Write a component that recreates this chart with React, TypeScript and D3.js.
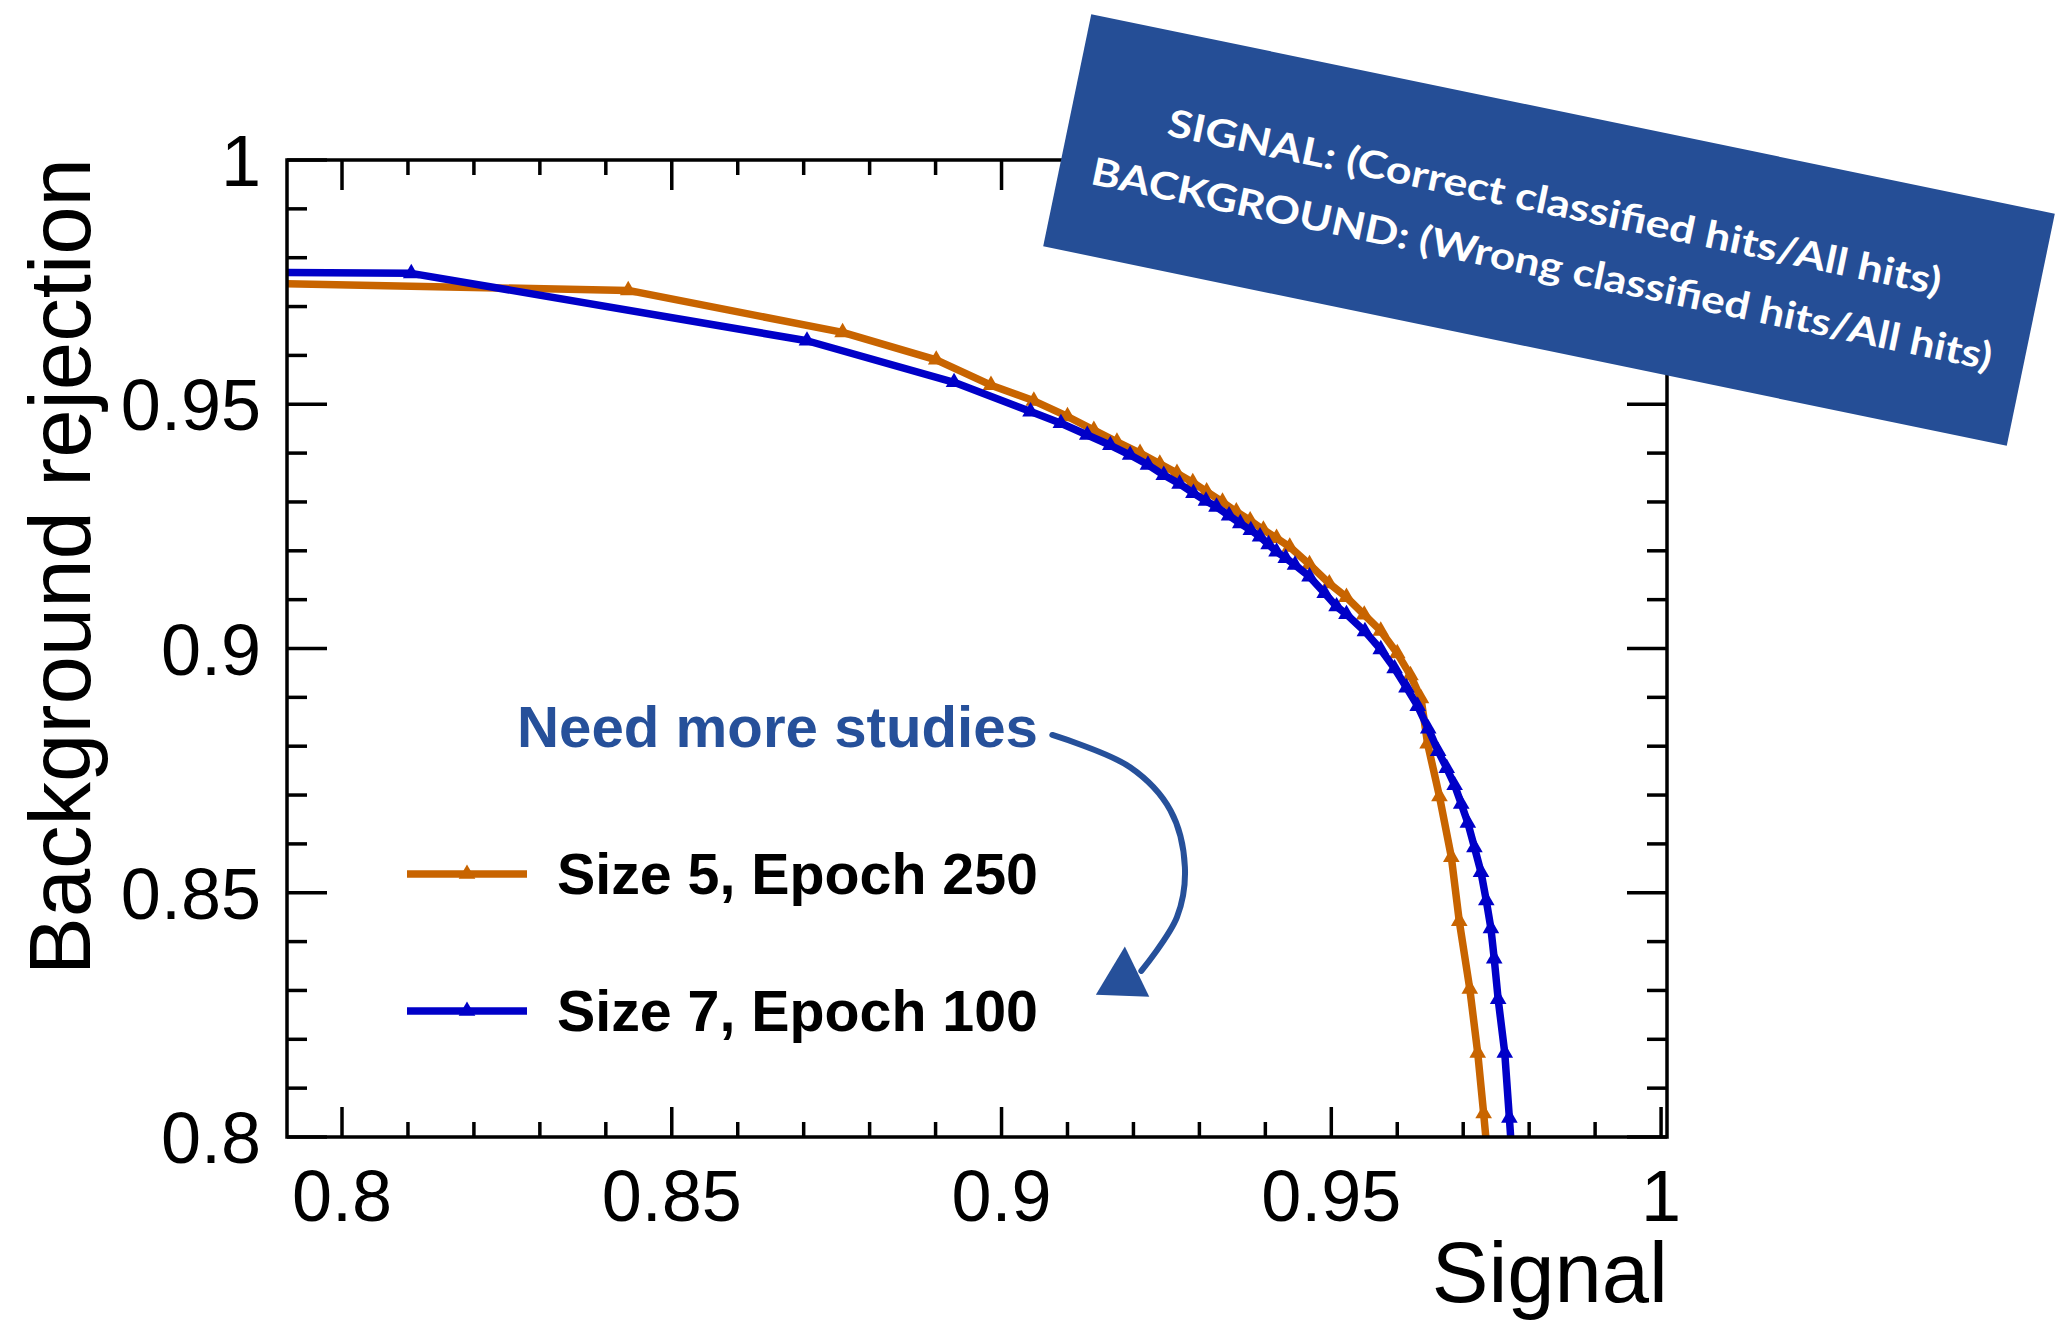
import React, { useEffect, useRef } from 'react';
import * as d3 from 'd3';

const W = 2061;
const H = 1324;

// ROC curves (signal efficiency vs background rejection)
const size5Signal = [0.790, 0.8434, 0.8759, 0.8901, 0.8984, 0.9049, 0.9100, 0.9140, 0.9175, 0.9210, 0.9240, 0.9266, 0.9290, 0.9311, 0.9335, 0.9356, 0.9377, 0.9397, 0.9417, 0.9437, 0.9467, 0.9497, 0.9523, 0.9550, 0.9575, 0.9600, 0.9620, 0.9636, 0.9646, 0.9664, 0.9682, 0.9694, 0.9710, 0.9722, 0.9731, 0.9737];
const size5Rejection = [0.9747, 0.9733, 0.9647, 0.9591, 0.9539, 0.9507, 0.9475, 0.9447, 0.9423, 0.9400, 0.9378, 0.9359, 0.9340, 0.9321, 0.9300, 0.9280, 0.9262, 0.9243, 0.9226, 0.9208, 0.9172, 0.9133, 0.9105, 0.9069, 0.9036, 0.8990, 0.8945, 0.8898, 0.8805, 0.8697, 0.8573, 0.8442, 0.8303, 0.8172, 0.8048, 0.7960];

const size7Signal = [0.790, 0.8105, 0.8705, 0.8928, 0.9044, 0.9090, 0.9130, 0.9165, 0.9195, 0.9222, 0.9246, 0.9270, 0.9291, 0.9310, 0.9326, 0.9345, 0.9362, 0.9378, 0.9392, 0.9405, 0.9417, 0.9431, 0.9445, 0.9467, 0.9490, 0.9508, 0.9523, 0.9551, 0.9575, 0.9596, 0.9614, 0.9631, 0.9647, 0.9662, 0.9675, 0.9687, 0.9697, 0.9707, 0.9717, 0.9727, 0.9735, 0.9742, 0.9747, 0.9753, 0.9763, 0.9770, 0.9774];
const size7Rejection = [0.9770, 0.9768, 0.9630, 0.9545, 0.9485, 0.9461, 0.9437, 0.9416, 0.9396, 0.9376, 0.9355, 0.9337, 0.9318, 0.9302, 0.9290, 0.9272, 0.9256, 0.9242, 0.9229, 0.9213, 0.9198, 0.9185, 0.9171, 0.9147, 0.9113, 0.9086, 0.9070, 0.9035, 0.8998, 0.8959, 0.8920, 0.8882, 0.8836, 0.8790, 0.8755, 0.8720, 0.8682, 0.8643, 0.8593, 0.8542, 0.8484, 0.8427, 0.8365, 0.8282, 0.8172, 0.8039, 0.7960];

const seriesNames = ['Size 5, Epoch 250', 'Size 7, Epoch 100'];
const seriesColors = ['#c86400', '#0000c8'];

const xMajor = [0.8, 0.85, 0.9, 0.95, 1];
const xTickLabels = ['0.8', '0.85', '0.9', '0.95', '1'];
const yMajor = [0.8, 0.85, 0.9, 0.95, 1];
const yTickLabels = ['0.8', '0.85', '0.9', '0.95', '1'];

const boxLines = ['SIGNAL: (Correct classified hits/All hits)', 'BACKGROUND: (Wrong classified hits/All hits)'];
const noteText = 'Need more studies';

// hand drawn arrow from the note down to the legend (data coordinates)
const arrowPath = [[0.9077, 0.8823], [0.9195, 0.8757], [0.9256, 0.8669], [0.9278, 0.8553], [0.9266, 0.8450], [0.9212, 0.8340]];
const arrowHead = [[0.9187, 0.8390], [0.9143, 0.8291], [0.9224, 0.8287]];

const App = () => {
  const svgRef = useRef<SVGSVGElement>(null);

  useEffect(() => {
    const svg = d3.select(svgRef.current);
    svg.selectAll('*').remove();

    const frame = { left: 287, right: 1667, top: 160, bottom: 1137 };
    const x = d3.scaleLinear().domain([0.79166, 1.0009]).range([frame.left, frame.right]);
    const y = d3.scaleLinear().domain([0.8, 1.0]).range([frame.bottom, frame.top]);
    const font = '"Liberation Sans", Arial, Helvetica, sans-serif';

    svg.append('rect').attr('width', W).attr('height', H).attr('fill', '#fff');

    svg.append('defs').append('clipPath').attr('id', 'frameClip')
      .append('rect')
      .attr('x', frame.left).attr('y', frame.top)
      .attr('width', frame.right - frame.left).attr('height', frame.bottom - frame.top);

    // ticks, ROOT style on all four sides
    const minor = d3.range(80, 101).filter(v => v % 5 !== 0).map(v => v / 100);
    const ticks = svg.append('g').attr('stroke', '#000').attr('stroke-width', 3.5);
    const addX = (vals: number[], len: number) => {
      vals.forEach(v => {
        ticks.append('line').attr('x1', x(v)).attr('x2', x(v)).attr('y1', frame.bottom).attr('y2', frame.bottom - len);
        ticks.append('line').attr('x1', x(v)).attr('x2', x(v)).attr('y1', frame.top).attr('y2', frame.top + len);
      });
    };
    const addY = (vals: number[], len: number) => {
      vals.forEach(v => {
        ticks.append('line').attr('y1', y(v)).attr('y2', y(v)).attr('x1', frame.left).attr('x2', frame.left + len);
        ticks.append('line').attr('y1', y(v)).attr('y2', y(v)).attr('x1', frame.right).attr('x2', frame.right - len);
      });
    };
    addX(xMajor, 30);
    addX(minor, 15);
    addY(yMajor, 40);
    addY(minor, 20);

    svg.append('g').selectAll('text').data(xMajor).enter().append('text')
      .attr('x', d => x(d)).attr('y', 1221)
      .attr('text-anchor', 'middle')
      .attr('font-family', font).attr('font-size', 72)
      .text((d, i) => xTickLabels[i]);

    svg.append('g').selectAll('text').data(yMajor).enter().append('text')
      .attr('x', 261).attr('y', d => y(d) + 26)
      .attr('text-anchor', 'end')
      .attr('font-family', font).attr('font-size', 72)
      .text((d, i) => yTickLabels[i]);

    svg.append('text')
      .attr('x', frame.right + 1).attr('y', 1302)
      .attr('text-anchor', 'end')
      .attr('font-family', font).attr('font-size', 85)
      .text('Signal');

    svg.append('text')
      .attr('transform', `translate(90,${frame.top - 2}) rotate(-90)`)
      .attr('text-anchor', 'end')
      .attr('font-family', font).attr('font-size', 87)
      .text('Background rejection');

    // curves
    const series = [
      size5Signal.map((s, i) => [s, size5Rejection[i]]),
      size7Signal.map((s, i) => [s, size7Rejection[i]]),
    ];
    const line = d3.line<number[]>().x(d => x(d[0])).y(d => y(d[1]));
    const marker = d3.symbol().type(d3.symbolTriangle).size(120);
    const plot = svg.append('g').attr('clip-path', 'url(#frameClip)');
    series.forEach((pts, k) => {
      plot.append('path')
        .attr('d', line(pts))
        .attr('fill', 'none')
        .attr('stroke', seriesColors[k])
        .attr('stroke-width', 7.5)
        .attr('stroke-linejoin', 'round');
      plot.append('g').selectAll('path').data(pts).enter().append('path')
        .attr('d', marker)
        .attr('transform', d => `translate(${x(d[0])},${y(d[1])})`)
        .attr('fill', seriesColors[k]);
    });

    // frame on top
    svg.append('rect')
      .attr('x', frame.left).attr('y', frame.top)
      .attr('width', frame.right - frame.left).attr('height', frame.bottom - frame.top)
      .attr('fill', 'none').attr('stroke', '#000').attr('stroke-width', 3.5);

    // legend
    const legendY = [874, 1011];
    seriesNames.forEach((name, k) => {
      svg.append('line')
        .attr('x1', 407).attr('x2', 527).attr('y1', legendY[k]).attr('y2', legendY[k])
        .attr('stroke', seriesColors[k]).attr('stroke-width', 7.5);
      svg.append('path')
        .attr('d', marker)
        .attr('transform', `translate(467,${legendY[k]})`)
        .attr('fill', seriesColors[k]);
      svg.append('text')
        .attr('x', 557).attr('y', legendY[k] + 20)
        .attr('font-family', font).attr('font-weight', 'bold').attr('font-size', 57)
        .attr('textLength', 481).attr('lengthAdjust', 'spacingAndGlyphs')
        .text(name);
    });

    // annotation: note + arrow
    const blue = '#26509a';
    svg.append('text')
      .attr('x', 517).attr('y', 747)
      .attr('font-family', font).attr('font-weight', 'bold').attr('font-size', 58)
      .attr('textLength', 521).attr('lengthAdjust', 'spacingAndGlyphs')
      .attr('fill', blue)
      .text(noteText);

    const arrowLine = d3.line<number[]>().x(d => x(d[0])).y(d => y(d[1])).curve(d3.curveCatmullRom);
    svg.append('path')
      .attr('d', arrowLine(arrowPath))
      .attr('fill', 'none').attr('stroke', blue).attr('stroke-width', 6)
      .attr('stroke-linecap', 'round');
    svg.append('path')
      .attr('d', d3.line<number[]>().x(d => x(d[0])).y(d => y(d[1]))(arrowHead) + 'Z')
      .attr('fill', blue);

    // rotated definition box
    const box = svg.append('g').attr('transform', 'translate(1549,230) rotate(11.7)');
    box.append('rect')
      .attr('x', -492).attr('y', -118.5).attr('width', 984).attr('height', 237)
      .attr('fill', '#254e96');
    const boxY = [-15, 48];
    const boxLen = [789, 919];
    boxLines.forEach((t, i) => {
      box.append('text')
        .attr('x', 0).attr('y', boxY[i])
        .attr('text-anchor', 'middle')
        .attr('font-family', '"Century Gothic", Lato, "Open Sans", sans-serif')
        .attr('font-weight', 'bold').attr('font-size', 38)
        .attr('textLength', boxLen[i]).attr('lengthAdjust', 'spacingAndGlyphs')
        .attr('fill', '#fff')
        .text(t);
    });
  }, []);

  return (
    <svg
      ref={svgRef}
      width={W}
      height={H}
      style={{ position: 'absolute', left: 0, top: 0, display: 'block' }}
    />
  );
};

export default App;
